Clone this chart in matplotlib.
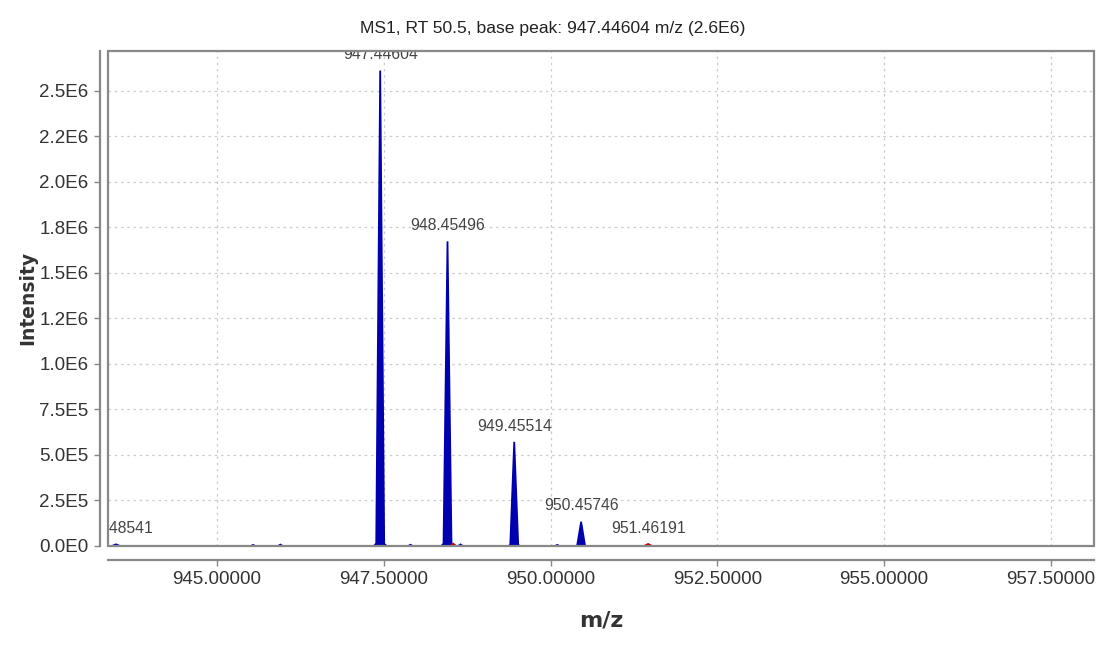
import numpy as np
import matplotlib
matplotlib.use("Agg")
import matplotlib.pyplot as plt
from matplotlib.patches import Rectangle
from matplotlib.ticker import FixedLocator

# labelled isotope peaks (m/z, intensity)
peak_mz = [943.48541, 947.44604, 948.45496, 949.45514, 950.45746, 951.46191]
peak_int = [9000, 2611000, 1673000, 572000, 133000, 11000]
peak_lbl = ["943.48541", "947.44604", "948.45496", "949.45514", "950.45746", "951.46191"]
peak_col = ["#0000b0", "#0000b0", "#0000b0", "#0000b0", "#0000b0", "#c00000"]

# feet at the base of the main peaks
foot_mz = [947.44604, 948.45496, 949.45514, 950.45746]
foot_int = [35000, 33000, 14000, 7000]

# small unlabelled signals
minor_mz = [945.54, 945.95, 947.90, 948.65, 950.10]
minor_int = [7000, 9000, 8000, 10000, 7000]
red_mz = [948.54]
red_int = [14000]

yticks = [0, 250000, 500000, 750000, 1000000, 1250000, 1500000, 1750000, 2000000, 2250000, 2500000]
ytick_lbl = ["0.0E0", "2.5E5", "5.0E5", "7.5E5", "1.0E6", "1.2E6", "1.5E6", "1.8E6", "2.0E6", "2.2E6", "2.5E6"]
xticks = [945.0, 947.5, 950.0, 952.5, 955.0, 957.5]
xtick_lbl = ["945.00000", "947.50000", "950.00000", "952.50000", "955.00000", "957.50000"]

plt.rcParams["font.family"] = ["Liberation Sans", "DejaVu Sans"]

fig = plt.figure(figsize=(11.01, 6.45), dpi=100)
ax = fig.add_axes([0.0981, 0.1535, 0.8955, 0.7679])

def spike(x, h, hw, col, lw=1.0):
    ax.fill([x - hw, x, x + hw], [0, h, 0], color=col, lw=lw, zorder=3)

for x, h in zip(foot_mz, foot_int):
    spike(x, h, 0.1, "#0000b0")
for x, h, c in zip(peak_mz, peak_int, peak_col):
    spike(x, h, 0.06, c, lw=1.3)
for x, h in zip(minor_mz, minor_int):
    spike(x, h, 0.04, "#0000b0")
for x, h in zip(red_mz, red_int):
    spike(x, h, 0.05, "#c00000")

for x, h, t in zip(peak_mz, peak_int, peak_lbl):
    ax.annotate(t, xy=(x, h), xytext=(0, 6), textcoords="offset points",
                ha="center", va="bottom", fontsize=11.3, color="#444444",
                clip_on=True, zorder=4)

ax.set_xlim(943.366, 958.145)
ax.set_ylim(0, 2720000)
ax.xaxis.set_major_locator(FixedLocator(xticks))
ax.yaxis.set_major_locator(FixedLocator(yticks))
ax.set_xticklabels(xtick_lbl)
ax.set_yticklabels(ytick_lbl)
ax.tick_params(labelsize=13.5, colors="#333333", length=4, width=1, pad=4)
ax.tick_params(axis="both", color="#888888")

ax.grid(True, color="#cccccc", linestyle=(0, (2, 3)), lw=0.9)
ax.set_axisbelow(True)

for s in ["top", "right"]:
    ax.spines[s].set_visible(False)
ax.spines["left"].set_position(("outward", 6))
ax.spines["bottom"].set_position(("outward", 10))
for s in ["left", "bottom"]:
    ax.spines[s].set_color("#888888")
    ax.spines[s].set_linewidth(1.6)
ax.add_patch(Rectangle((0, 0), 1, 1, transform=ax.transAxes, fill=False,
                       ec="#888888", lw=1.6, clip_on=False, zorder=5))

ax.set_ylabel("Intensity", fontsize=13.5, fontweight="bold", family="DejaVu Sans",
              color="#333333", labelpad=0)
ax.yaxis.set_label_coords(-0.072, 0.5)
ax.set_xlabel("m/z", fontsize=16, fontweight="bold", family="DejaVu Sans",
              color="#333333")
ax.xaxis.set_label_coords(0.5, -0.13)
fig.suptitle("MS1, RT 50.5, base peak: 947.44604 m/z (2.6E6)", x=0.502, y=0.968,
             fontsize=12.6, color="#222222")

fig.savefig("out.png", dpi=100)
